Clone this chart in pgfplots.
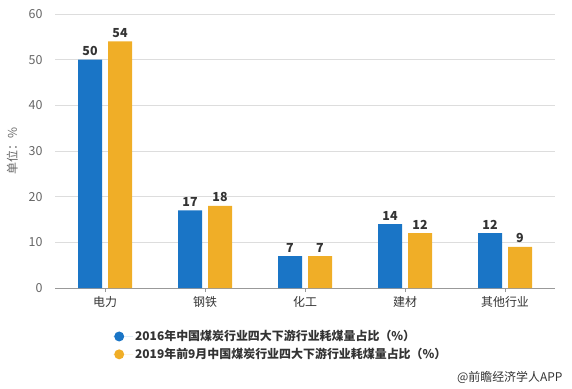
\documentclass[border=0pt]{standalone}
\usepackage{fontspec}
\setmainfont{Noto Sans CJK SC}
\usepackage{pgfplots}
\pgfplotsset{compat=1.18}
\definecolor{cblue}{HTML}{1A75C6}
\definecolor{corange}{HTML}{F0AE27}
\definecolor{tgray}{HTML}{666666}
\definecolor{dgray}{HTML}{333333}
\definecolor{grid}{HTML}{DDDDDD}
\definecolor{base}{HTML}{999999}
\begin{document}
\begin{tikzpicture}[x=1bp,y=1bp]
\path[use as bounding box] (0,0) rectangle (572,388);
\begin{axis}[
  at={(55bp,100bp)}, anchor=south west,
  scale only axis, width=500bp, height=274bp,
  /pgf/number format/assume math mode=true,
  font=\fontsize{12}{14}\selectfont,
  ymin=0, ymax=60, ytick={0,10,...,60},
  xmin=-0.5, xmax=4.5,
  xtick={0,1,2,3,4},
  xticklabels={电力,钢铁,化工,建材,其他行业},
  axis x line*=bottom, axis y line*=left,
  y axis line style={draw=none},
  x axis line style={draw=base, line width=0.8pt},
  xtick style={draw=base, line width=0.8pt},
  ytick style={draw=none},
  tick align=outside, major tick length=4bp,
  xticklabel style={text=dgray, yshift=-1bp},
  yticklabel style={text=tgray, font=\fontsize{12.5}{14}\selectfont, xshift=-5bp},
  ymajorgrids, grid style={draw=grid, line width=0.6pt},
  ylabel={单位：\%}, ylabel style={text=tgray, yshift=4bp},
  ybar=6bp, bar width=24bp,
  nodes near coords,
  every node near coord/.append style={font=\bfseries\fontsize{12.5}{14}\selectfont, text=dgray, yshift=0.5bp},
  legend style={at={(rel axis cs:0.11,-0.14)}, anchor=north west, draw=none, fill=none,
    font=\bfseries\fontsize{12}{14}\selectfont, text=dgray, row sep=2bp},
  legend cell align=left,
  legend image code/.code={\fill (6bp,0) circle (5bp); \path (0,0) -- (20bp,0);},
]
\addplot[draw=none, fill=cblue] coordinates {(0,50) (1,17) (2,7) (3,14) (4,12)};
\addlegendentry{2016年中国煤炭行业四大下游行业耗煤量占比（\%）}
\addplot[draw=none, fill=corange] coordinates {(0,54) (1,18) (2,7) (3,12) (4,9)};
\addlegendentry{2019年前9月中国煤炭行业四大下游行业耗煤量占比（\%）}
\end{axis}
\node[anchor=east, text=dgray, font=\fontsize{12}{14}\selectfont] at (566,11) {@前瞻经济学人APP};
\end{tikzpicture}
\end{document}
